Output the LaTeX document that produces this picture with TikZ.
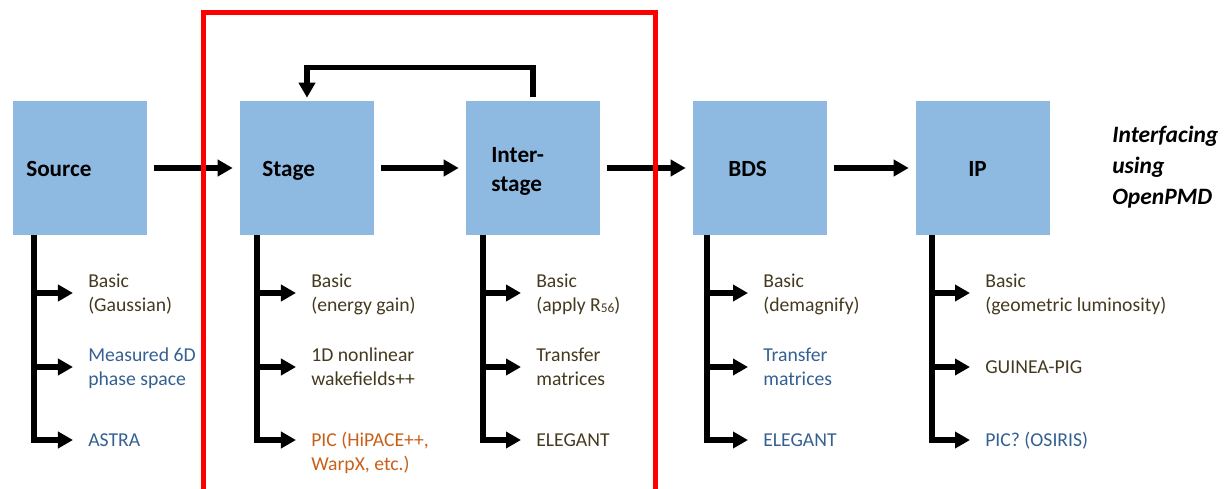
\documentclass[tikz,border=0pt]{standalone}
\usepackage{fontspec}
\setmainfont{Carlito}
\usetikzlibrary{arrows.meta}
\definecolor{boxblue}{HTML}{8EBAE2}
\definecolor{txtbrown}{HTML}{45391F}
\definecolor{txtblue}{HTML}{346092}
\definecolor{txtorange}{HTML}{C9601A}
\definecolor{framered}{HTML}{FF0000}

\begin{document}
\begin{tikzpicture}[x=0.025cm, y=-0.025cm,
    box/.style={fill=boxblue, inner sep=0pt, minimum width=3.35cm, minimum height=3.35cm},
    boxlabel/.style={anchor=base west, inner sep=0pt, align=left, font=\fontsize{16.5}{20.6}\selectfont\bfseries},
    item/.style={anchor=base west, inner sep=0pt, align=left, text=txtbrown, font=\fontsize{14}{17}\selectfont},
    flow/.style={draw, line width=3.7pt, -{Triangle[length=0.375cm, width=0.4cm]}},
    branch/.style={flow, shorten >=0.375cm}]

  \useasboundingbox (0,0) rectangle (1228,488);

  % Bloecke
  \coordinate (xSrc) at (80,168);
  \coordinate (xStg) at (307,168);
  \coordinate (xInt) at (533,168);
  \coordinate (xBds) at (760,168);
  \coordinate (xIp) at (983,168);
  \node[box] (nSrc) at (xSrc) {};
  \node[box] (nStg) at (xStg) {};
  \node[box] (nInt) at (xInt) {};
  \node[box] (nBds) at (xBds) {};
  \node[box] (nIp) at (xIp) {};
  \node[boxlabel] (lSrc) at (26,176) {Source};
  \node[boxlabel] (lStg) at (262,176) {Stage};
  \node[boxlabel] (lInt) at (491,191) {Inter-\\stage};
  \node[boxlabel] (lBds) at (728,176) {BDS};
  \node[boxlabel] (lIp) at (968,176) {IP};
  \node[boxlabel, font=\fontsize{16.7}{21.7}\selectfont\bfseries\itshape] (lNote) at (1112,204) {Interfacing\\using\\OpenPMD};

  % Kette
  \draw[flow, shorten <=0.175cm, shorten >=0.175cm] (nSrc) -- (nStg);
  \draw[flow, shorten <=0.175cm, shorten >=0.175cm] (nStg) -- (nInt);
  \draw[flow, shorten <=0.175cm, shorten >=0.175cm] (nInt) -- (nBds);
  \draw[flow, shorten <=0.175cm, shorten >=0.175cm] (nBds) -- (nIp);
  \draw[flow, shorten <=0.09cm, shorten >=0.075cm] (nInt.north) -- ++(0,-33) -| (nStg.north);

  % Source
  \coordinate (xSrcA) at (34,293);
  \coordinate (xSrcB) at (34,367);
  \coordinate (xSrcC) at (34,440);
  \node[item] (nSrcA) at (88,311.5) {Basic\\(Gaussian)};
  \node[item, text=txtblue] (nSrcB) at (88,385) {Measured 6D\\phase space};
  \node[item, text=txtblue] (nSrcC) at (88,446) {ASTRA};
  \draw[branch] (nSrc.south -| xSrcC) -- (xSrcC) -- (nSrcC.west |- xSrcC);
  \draw[branch] (xSrcA) -- (nSrcA.west |- xSrcA);
  \draw[branch] (xSrcB) -- (nSrcB.west |- xSrcB);

  % Stage
  \coordinate (xStgA) at (257,293);
  \coordinate (xStgB) at (257,367);
  \coordinate (xStgC) at (257,440);
  \node[item] (nStgA) at (311,311.5) {Basic\\(energy gain)};
  \node[item] (nStgB) at (311,385) {1D nonlinear\\wakefields++};
  \node[item, text=txtorange] (nStgC) at (311,470) {PIC (HiPACE++,\\WarpX, etc.)};
  \draw[branch] (nStg.south -| xStgC) -- (xStgC) -- (nStgC.west |- xStgC);
  \draw[branch] (xStgA) -- (nStgA.west |- xStgA);
  \draw[branch] (xStgB) -- (nStgB.west |- xStgB);

  % Interstage
  \coordinate (xIntA) at (483,293);
  \coordinate (xIntB) at (483,367);
  \coordinate (xIntC) at (483,440);
  \node[item] (nIntA) at (536,311.5) {Basic\\(apply R\raisebox{-1pt}{\fontsize{9.5}{9.5}\selectfont 56})};
  \node[item] (nIntB) at (536,385) {Transfer\\matrices};
  \node[item] (nIntC) at (536,446) {ELEGANT};
  \draw[branch] (nInt.south -| xIntC) -- (xIntC) -- (nIntC.west |- xIntC);
  \draw[branch] (xIntA) -- (nIntA.west |- xIntA);
  \draw[branch] (xIntB) -- (nIntB.west |- xIntB);

  % BDS
  \coordinate (xBdsA) at (707,293);
  \coordinate (xBdsB) at (707,367);
  \coordinate (xBdsC) at (707,440);
  \node[item] (nBdsA) at (763,311.5) {Basic\\(demagnify)};
  \node[item, text=txtblue] (nBdsB) at (763,385) {Transfer\\matrices};
  \node[item, text=txtblue] (nBdsC) at (763,446) {ELEGANT};
  \draw[branch] (nBds.south -| xBdsC) -- (xBdsC) -- (nBdsC.west |- xBdsC);
  \draw[branch] (xBdsA) -- (nBdsA.west |- xBdsA);
  \draw[branch] (xBdsB) -- (nBdsB.west |- xBdsB);

  % IP
  \coordinate (xIpA) at (932,293);
  \coordinate (xIpB) at (932,367);
  \coordinate (xIpC) at (932,440);
  \node[item] (nIpA) at (985,311.5) {Basic\\(geometric luminosity)};
  \node[item] (nIpB) at (985,373) {GUINEA-PIG};
  \node[item, text=txtblue] (nIpC) at (985,446) {PIC? (OSIRIS)};
  \draw[branch] (nIp.south -| xIpC) -- (xIpC) -- (nIpC.west |- xIpC);
  \draw[branch] (xIpA) -- (nIpA.west |- xIpA);
  \draw[branch] (xIpB) -- (nIpB.west |- xIpB);

  % Rahmen
  \draw[framered, line width=3.6pt] (203.5,12.5) rectangle (655.5,492);

\end{tikzpicture}
\end{document}
